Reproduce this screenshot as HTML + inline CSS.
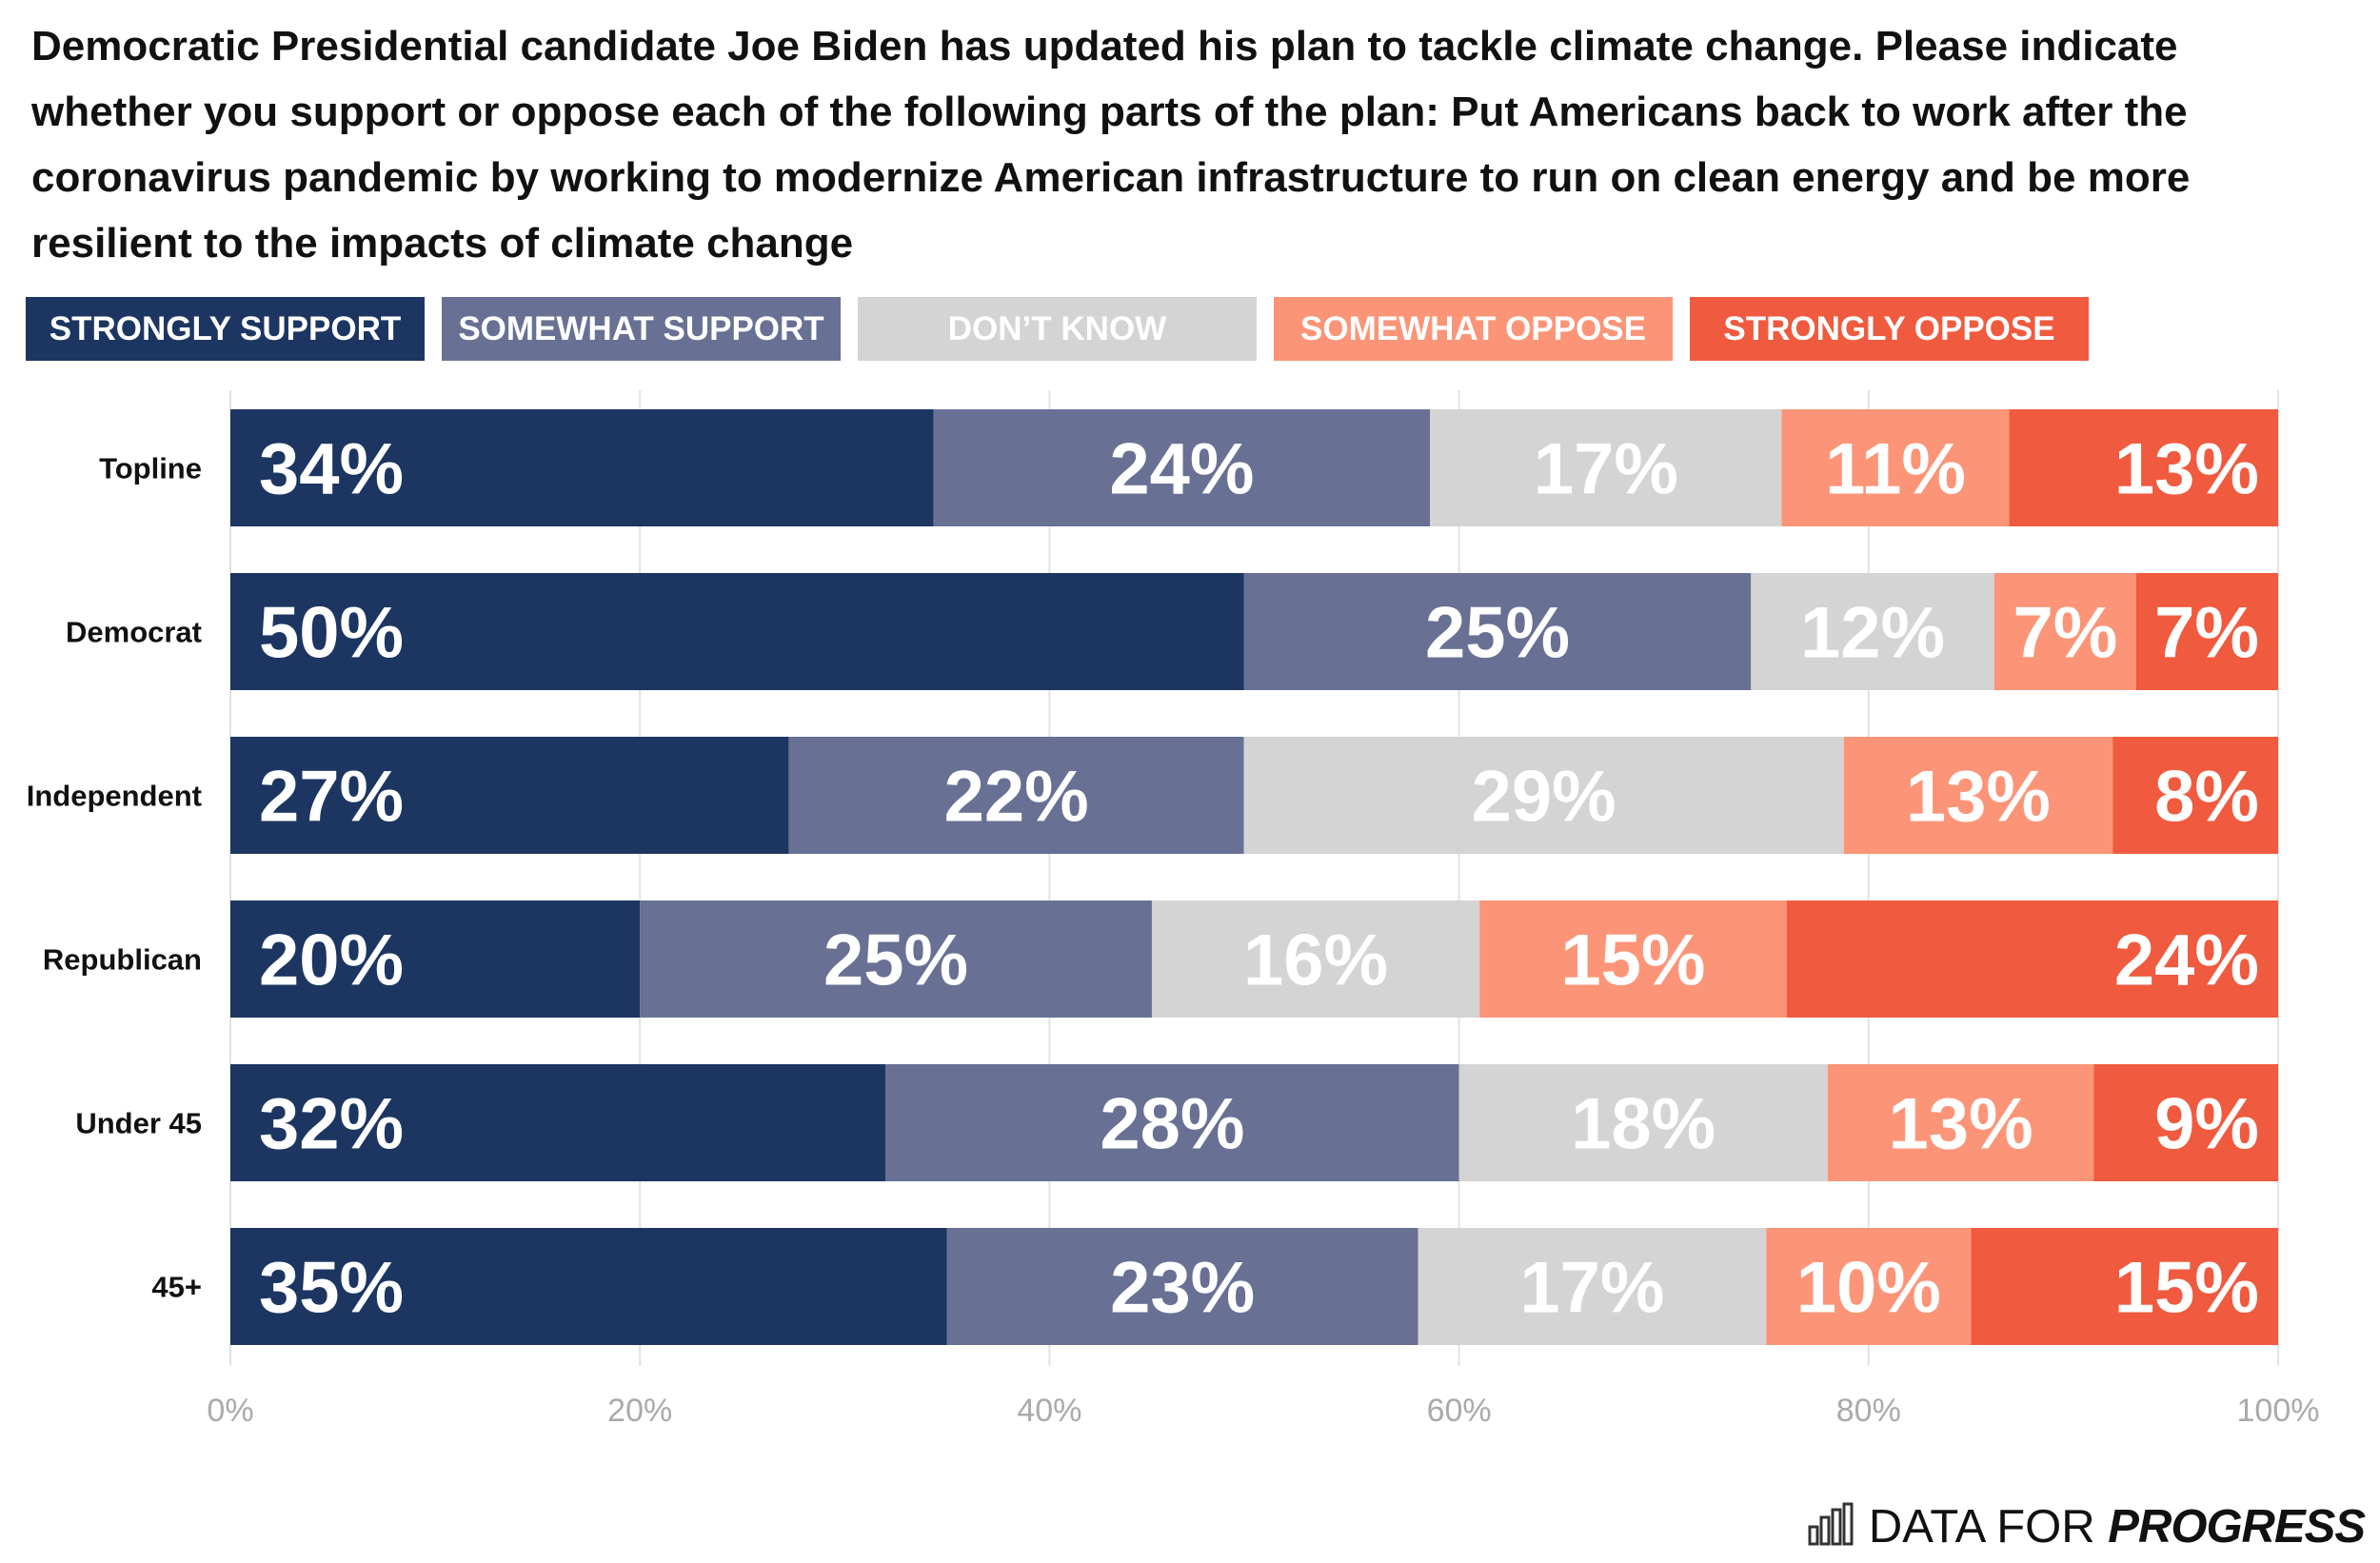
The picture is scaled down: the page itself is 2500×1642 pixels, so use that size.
<!DOCTYPE html>
<html><head><meta charset="utf-8"><style>
body{margin:0;background:#fff;width:2500px;height:1642px;overflow:hidden;font-family:"Liberation Sans",sans-serif;}
#title{position:absolute;left:33px;top:14px;width:2420px;font-size:44px;font-weight:bold;line-height:69px;color:#111;}
.leg{position:absolute;top:312px;height:67px;color:#fff;font-weight:bold;font-size:35px;line-height:67px;text-align:center;}
</style></head><body>
<div id="title">Democratic Presidential candidate Joe Biden has updated his plan to tackle climate change. Please indicate whether you support or oppose each of the following parts of the plan: Put Americans back to work after the coronavirus pandemic by working to modernize American infrastructure to run on clean energy and be more resilient to the impacts of climate change</div>
<div class="leg" style="left:27px;width:419px;background:#1c3661">STRONGLY SUPPORT</div>
<div class="leg" style="left:464px;width:419px;background:#687194">SOMEWHAT SUPPORT</div>
<div class="leg" style="left:901px;width:419px;background:#d4d4d4">DON’T KNOW</div>
<div class="leg" style="left:1338px;width:419px;background:#fc9478">SOMEWHAT OPPOSE</div>
<div class="leg" style="left:1775px;width:419px;background:#f05a3e">STRONGLY OPPOSE</div>
<svg id="chart" width="2500" height="1642" style="position:absolute;left:0;top:0"></svg>
<div style="position:absolute;right:16px;top:1576px;font-size:49px;color:#111;white-space:nowrap">
<svg width="50" height="46" style="vertical-align:-4px;margin-right:14px"><g fill="none" stroke="#333" stroke-width="3"><rect x="2" y="26" width="8" height="18"/><rect x="14" y="16" width="8" height="28"/><rect x="26" y="8" width="8" height="36"/><rect x="38" y="2" width="8" height="42"/></g></svg>DATA FOR <b><i style="letter-spacing:-1px">PROGRESS</i></b></div>
<script>
const categories=["Topline","Democrat","Independent","Republican","Under 45","45+"];
const strongSupport=[34,50,27,20,32,35];
const someSupport=[24,25,22,25,28,23];
const dontKnow=[17,12,29,16,18,17];
const someOppose=[11,7,13,15,13,10];
const strongOppose=[13,7,8,24,9,15];
const ticks=[0,20,40,60,80,100];
const series=[strongSupport,someSupport,dontKnow,someOppose,strongOppose];
const colors=["#1c3661","#687194","#d4d4d4","#fc9478","#f05a3e"];
const names=["strongly-support","somewhat-support","dont-know","somewhat-oppose","strongly-oppose"];
const svg=document.getElementById('chart');const NS="http://www.w3.org/2000/svg";
const x0=242,x1=2393,yTop=430,step=172,bh=123;
const xs=v=>x0+(x1-x0)*v/100;
function mk(t,a){const e=document.createElementNS(NS,t);for(const k in a)e.setAttribute(k,a[k]);svg.appendChild(e);return e;}
ticks.forEach(t=>{const g=mk('line',{x1:xs(t),x2:xs(t),y1:410,y2:1435,stroke:'#e2e2e2','stroke-width':2});


const l=mk('text',{x:xs(t),y:1493,'text-anchor':'middle','font-size':34,fill:'#aaa','font-family':'Liberation Sans'});l.textContent=t+'%';

});
categories.forEach((c,i)=>{const y=yTop+i*step;
const lb=mk('text',{x:212,y:y+bh/2+11,'text-anchor':'end','font-size':31,'font-weight':'bold',fill:'#111','font-family':'Liberation Sans'});lb.textContent=c;


const tot=series.reduce((s,a)=>s+a[i],0);let cum=0;
series.forEach((a,j)=>{const v=a[i];const xa=xs(cum/tot*100);cum+=v;const xb=xs(cum/tot*100);
const r=mk('rect',{x:xa,y:y,width:xb-xa,height:bh,fill:colors[j]});


let tx,anc;if(j==0){tx=xa+30;anc='start';}else if(j==4){tx=xb-20;anc='end';}else{tx=(xa+xb)/2;anc='middle';}
const t=mk('text',{x:tx,y:y+bh/2+27,'text-anchor':anc,'font-size':76,'font-weight':'bold',fill:'#fff','font-family':'Liberation Sans'});t.textContent=v+'%';

});});
</script>
</body></html>
